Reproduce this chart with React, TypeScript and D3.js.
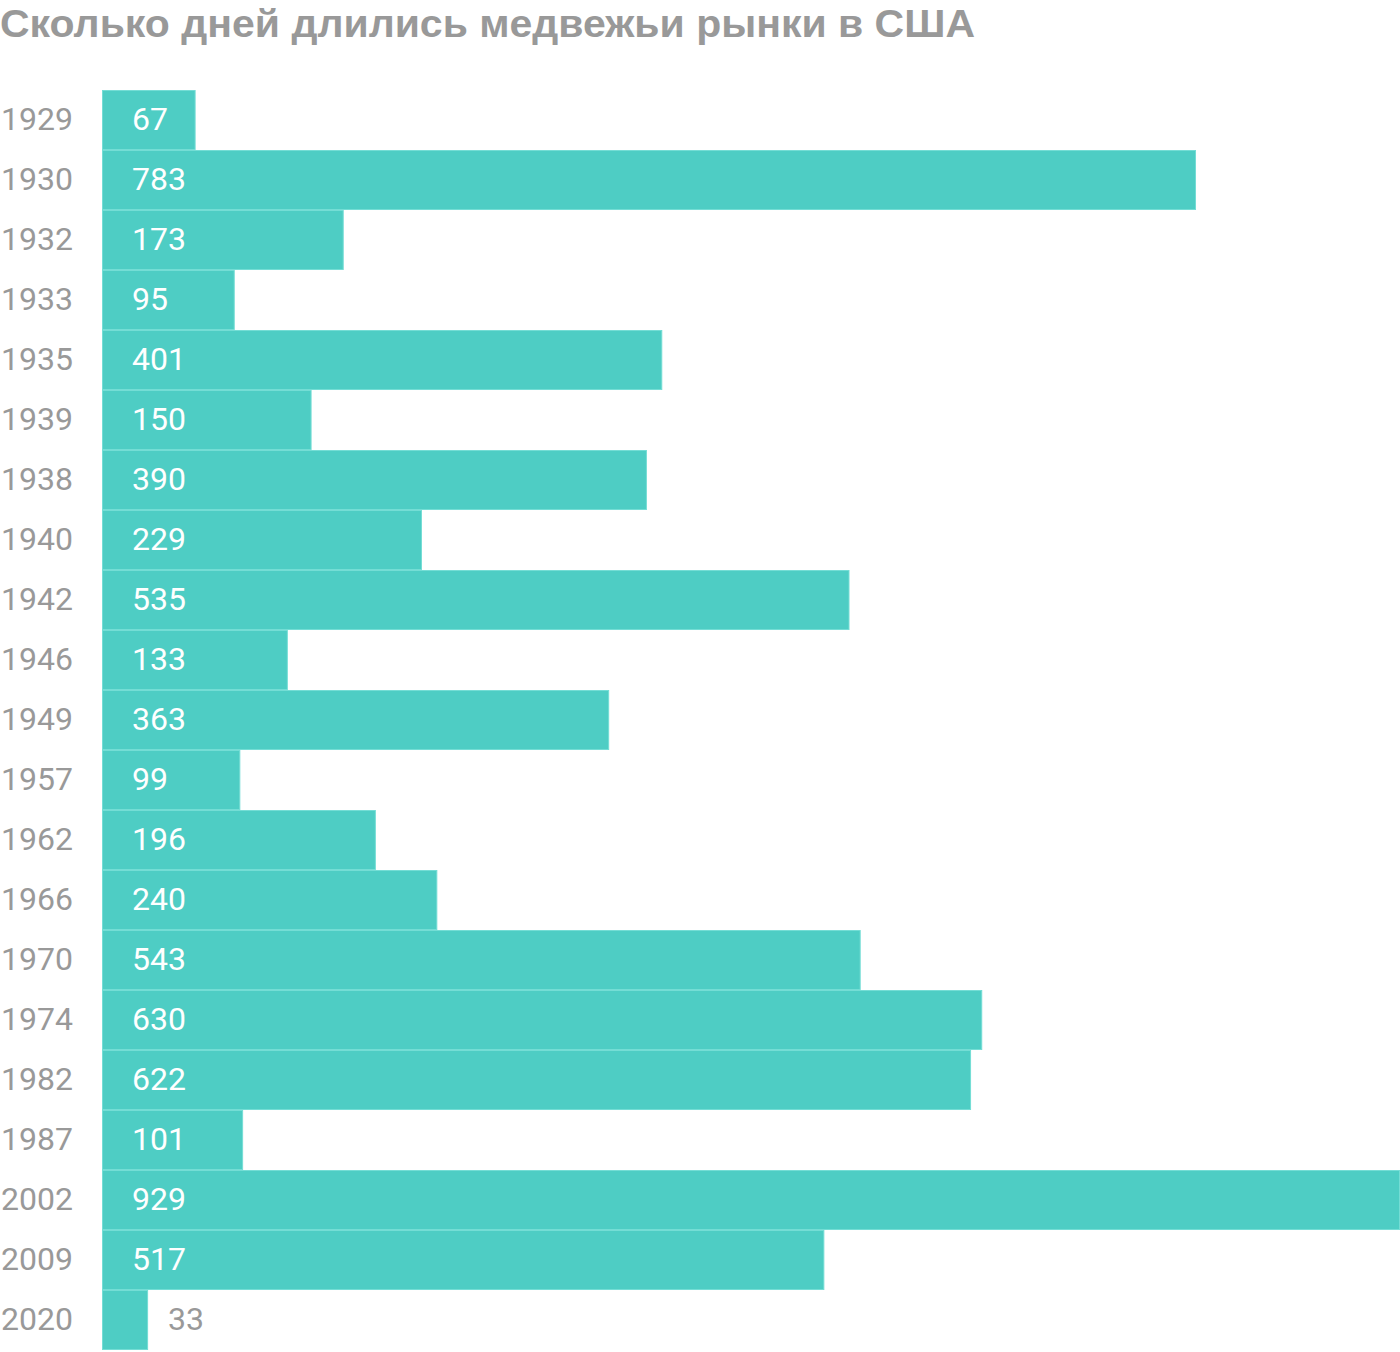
import React from "react";
import * as d3 from "d3";

const title = "Сколько дней длились медвежьи рынки в США";
const years = ["1929","1930","1932","1933","1935","1939","1938","1940","1942","1946","1949","1957","1962","1966","1970","1974","1982","1987","2002","2009","2020"];
const days = [67,783,173,95,401,150,390,229,535,133,363,99,196,240,543,630,622,101,929,517,33];

const W = 1400, H = 1352;
const left = 102, right = 1400, top = 90, rowH = 60;

export default function App() {
  const x = d3.scaleLinear().domain([0, d3.max(days)!]).range([left, right]);
  const y = d3.scaleBand<string>().domain(years).range([top, top + rowH * years.length]).padding(0);
  const font = "Roboto, 'Noto Sans', sans-serif";
  return (
    <svg width={W} height={H} style={{ position: "absolute", left: 0, top: 0, background: "#fff" }}>
      <text x={0} y={37} fill="#999" fontFamily="'Liberation Sans', Arial, sans-serif" fontWeight="bold" fontSize={38.5} textLength={975} lengthAdjust="spacingAndGlyphs">{title}</text>
      {years.map((yr, i) => {
        const y0 = y(yr)!;
        const xe = x(days[i]);
        const inside = xe - left > 70;
        return (
          <g key={yr}>
            <rect x={left + 0.5} y={y0 + 0.5} width={xe - left - 1} height={rowH - 1} fill="#4ecdc4" stroke="#74ddd5" strokeWidth={1} />
            <text x={1} y={y0 + rowH / 2 - 1} dy="0.355em" fill="#999" fontFamily={font} fontSize={32}>{yr}</text>
            <text x={inside ? left + 30 : xe + 20} y={y0 + rowH / 2 - 1} dy="0.355em" fill={inside ? "#fff" : "#999"} fontFamily={font} fontSize={32}>{days[i]}</text>
          </g>
        );
      })}
    </svg>
  );
}
